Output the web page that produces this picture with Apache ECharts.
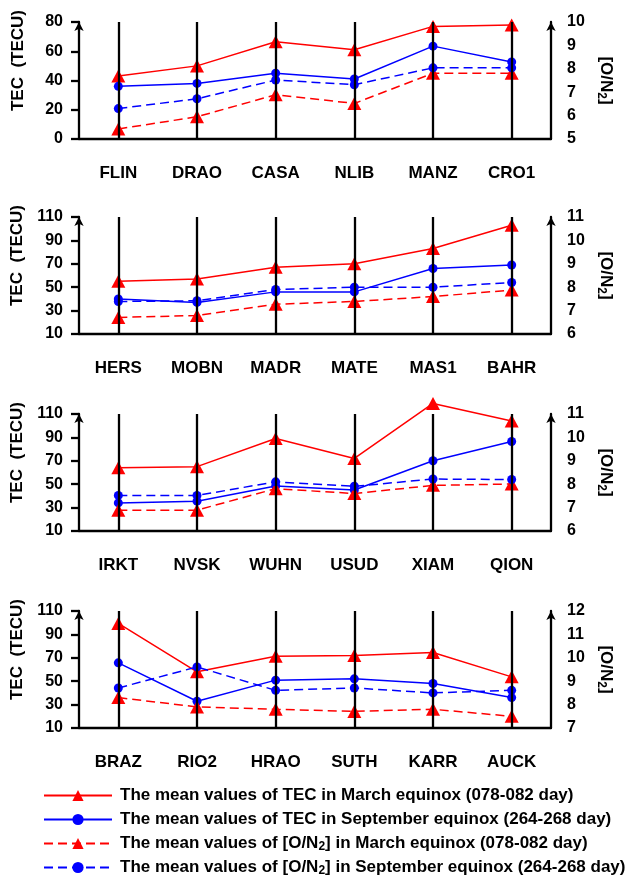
<!DOCTYPE html>
<html>
<head>
<meta charset="utf-8">
<script src="https://cdn.jsdelivr.net/npm/echarts@6/dist/echarts.min.js"></script>
<style>
  html, body { margin: 0; padding: 0; background: #fff; }
  #chart { width: 640px; height: 879px; }
</style>
</head>
<body>
<div id="chart"></div>
<script>
  // stations of each panel
  const stations1 = ['FLIN', 'DRAO', 'CASA', 'NLIB', 'MANZ', 'CRO1']
  const stations2 = ['HERS', 'MOBN', 'MADR', 'MATE', 'MAS1', 'BAHR']
  const stations3 = ['IRKT', 'NVSK', 'WUHN', 'USUD', 'XIAM', 'QION']
  const stations4 = ['BRAZ', 'RIO2', 'HRAO', 'SUTH', 'KARR', 'AUCK']

  // TEC (TECU), March / September equinox
  const tecMar1 = [43, 50, 66.5, 61, 77, 78]
  const tecSep1 = [36, 38, 45, 41, 63.5, 52.7]
  const tecMar2 = [55, 57, 67, 70, 83, 103]
  const tecSep2 = [40, 37, 46, 46, 66, 69]
  const tecMar3 = [64, 65, 89, 72, 119, 104]
  const tecSep3 = [34, 35.5, 48.5, 45, 70, 86.5]
  const tecMar4 = [99.4, 58, 71.4, 72, 74.6, 53.7]
  const tecSep4 = [65.7, 32.9, 50.9, 52, 48, 36]

  // [O/N2], March / September equinox
  const on2Mar1 = [5.43, 5.95, 6.89, 6.52, 7.81, 7.81]
  const on2Sep1 = [6.3, 6.72, 7.52, 7.32, 8.04, 8.04]
  const on2Mar2 = [6.71, 6.79, 7.27, 7.39, 7.6, 7.88]
  const on2Sep2 = [7.39, 7.42, 7.9, 8.0, 8.0, 8.2]
  const on2Mar3 = [6.89, 6.89, 7.81, 7.6, 7.95, 8.01]
  const on2Sep3 = [7.52, 7.52, 8.1, 7.91, 8.22, 8.2]
  const on2Mar4 = [8.3, 7.9, 7.8, 7.71, 7.8, 7.5]
  const on2Sep4 = [8.71, 9.61, 8.61, 8.71, 8.5, 8.61]

  // tick labels
  const tecTicks1 = [0, 20, 40, 60, 80]
  const tecTicks = [10, 30, 50, 70, 90, 110]
  const on2Ticks1 = [5, 6, 7, 8, 9, 10]
  const on2Ticks2 = [6, 7, 8, 9, 10, 11]
  const on2Ticks4 = [7, 8, 9, 10, 11, 12]

  const names = [
    'The mean values of TEC in March equinox (078-082 day)',
    'The mean values of TEC in September equinox (264-268 day)',
    'The mean values of [O/N2] in March equinox (078-082 day)',
    'The mean values of [O/N2] in September equinox (264-268 day)'
  ]

  const panels = [
    { stations: stations1, tecMar: tecMar1, tecSep: tecSep1, on2Mar: on2Mar1, on2Sep: on2Sep1, tecTicks: tecTicks1, on2Ticks: on2Ticks1 },
    { stations: stations2, tecMar: tecMar2, tecSep: tecSep2, on2Mar: on2Mar2, on2Sep: on2Sep2, tecTicks: tecTicks, on2Ticks: on2Ticks2 },
    { stations: stations3, tecMar: tecMar3, tecSep: tecSep3, on2Mar: on2Mar3, on2Sep: on2Sep3, tecTicks: tecTicks, on2Ticks: on2Ticks2 },
    { stations: stations4, tecMar: tecMar4, tecSep: tecSep4, on2Mar: on2Mar4, on2Sep: on2Sep4, tecTicks: tecTicks, on2Ticks: on2Ticks4 }
  ]

  const gridTops = [22, 217, 414, 611]
  const font = '"Liberation Sans", Arial, sans-serif'
  const RED = '#ff0000'
  const BLUE = '#0000ff'
  const black = { color: '#000', width: 2.3 }
  const boldText = size => ({ fontFamily: font, fontWeight: 'bold', fontSize: size, color: '#000' })
  const subRich = { sub: { fontFamily: font, fontWeight: 'bold', fontSize: 12, color: '#000', verticalAlign: 'bottom', lineHeight: 19 } }

  const grid = []
  const xAxis = []
  const yAxis = []
  const series = []

  panels.forEach((p, i) => {
    grid.push({ left: 79, right: 89, top: gridTops[i], height: 117 })

    xAxis.push({
      gridIndex: i,
      type: 'category',
      position: 'bottom',
      data: p.stations,
      axisLine: { onZero: false, lineStyle: black },
      axisTick: { alignWithLabel: true, length: 8, lineStyle: black },
      axisLabel: Object.assign({ margin: 26 }, boldText(17))
    })

    const tt = p.tecTicks
    const ot = p.on2Ticks
    yAxis.push({
      gridIndex: i,
      type: 'value',
      position: 'left',
      min: tt[0],
      max: tt[tt.length - 1],
      axisLine: { show: true, lineStyle: black, symbol: ['none', 'arrow'], symbolSize: [7, 9] },
      axisTick: { show: true, length: 8, lineStyle: black, customValues: tt },
      axisLabel: Object.assign({ margin: 16, customValues: tt }, boldText(16)),
      splitLine: { show: false },
      name: 'TEC  (TECU)',
      nameLocation: 'middle',
      nameRotate: 90,
      nameGap: 52,
      nameTextStyle: Object.assign({ padding: [0, 0, 0, 40] }, boldText(17))
    })
    yAxis.push({
      gridIndex: i,
      type: 'value',
      position: 'right',
      min: ot[0],
      max: ot[ot.length - 1],
      axisLine: { show: true, lineStyle: black, symbol: ['none', 'arrow'], symbolSize: [7, 9] },
      axisTick: { show: false },
      axisLabel: Object.assign({ margin: 16, customValues: ot }, boldText(16)),
      splitLine: { show: false },
      name: '[O/N{sub|2}]',
      nameLocation: 'middle',
      nameRotate: -90,
      nameGap: 38,
      nameTextStyle: Object.assign({ rich: subRich }, boldText(17))
    })

    const base = {
      type: 'line',
      xAxisIndex: i,
      clip: false,
      animation: false
    }
    series.push(Object.assign({}, base, {
      name: names[0], yAxisIndex: 2 * i, data: p.tecMar,
      symbol: 'triangle', symbolSize: [14, 13],
      lineStyle: { color: RED, width: 1.5 }, itemStyle: { color: RED },
      // vertical station lines
      markLine: {
        silent: true,
        symbol: 'none',
        label: { show: false },
        lineStyle: { color: '#000', width: 2.3, type: 'solid' },
        data: p.stations.map(s => ({ xAxis: s }))
      }
    }))
    series.push(Object.assign({}, base, {
      name: names[1], yAxisIndex: 2 * i, data: p.tecSep,
      symbol: 'circle', symbolSize: 9,
      lineStyle: { color: BLUE, width: 1.5 }, itemStyle: { color: BLUE }
    }))
    series.push(Object.assign({}, base, {
      name: names[2], yAxisIndex: 2 * i + 1, data: p.on2Mar,
      symbol: 'triangle', symbolSize: [14, 13],
      lineStyle: { color: RED, width: 1.5, type: [9, 5] }, itemStyle: { color: RED }
    }))
    series.push(Object.assign({}, base, {
      name: names[3], yAxisIndex: 2 * i + 1, data: p.on2Sep,
      symbol: 'circle', symbolSize: 9,
      lineStyle: { color: BLUE, width: 1.5, type: [9, 5] }, itemStyle: { color: BLUE }
    }))
  })

  const chart = echarts.init(document.getElementById('chart'))
  chart.setOption({
    animation: false,
    backgroundColor: '#fff',
    textStyle: { fontFamily: font },
    grid,
    xAxis,
    yAxis,
    series,
    legend: {
      orient: 'vertical',
      left: 43,
      top: 786,
      padding: 0,
      itemWidth: 68,
      itemHeight: 14,
      itemGap: 5,
      selectedMode: false,
      data: names,
      formatter: n => n.replace('N2]', 'N{sub|2}]'),
      textStyle: Object.assign({ lineHeight: 19, padding: [0, 0, 0, 3], rich: subRich }, boldText(17))
    }
  })
</script>
</body>
</html>
